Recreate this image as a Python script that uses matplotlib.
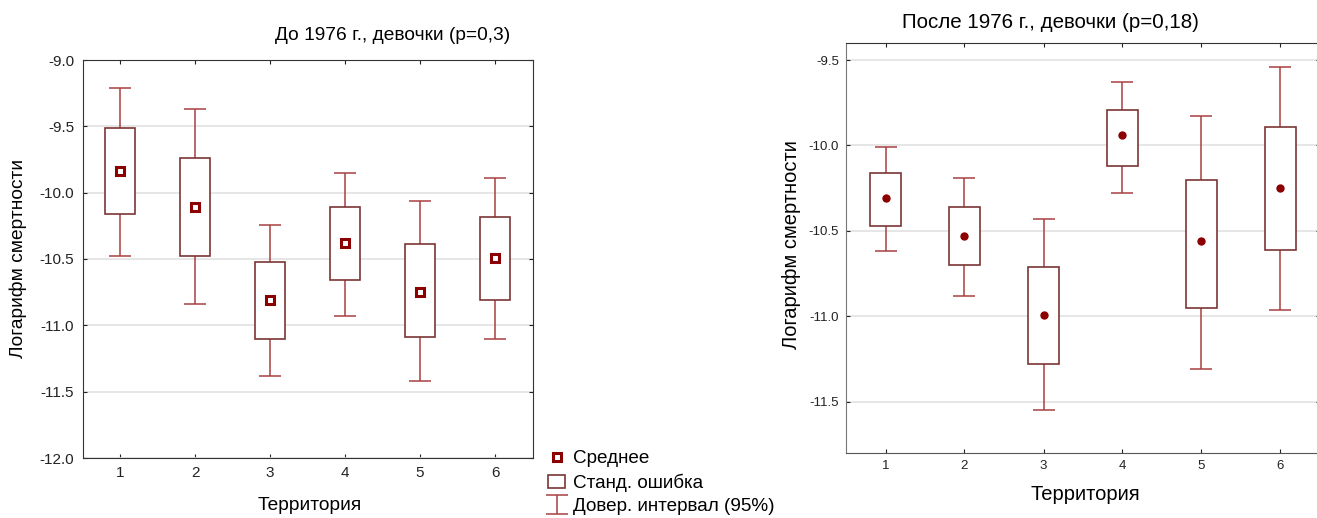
import matplotlib.pyplot as plt
import numpy as np
from matplotlib.patches import Rectangle

plt.rcParams['font.family'] = ['Liberation Sans', 'DejaVu Sans']
plt.rcParams['axes.unicode_minus'] = False

# territories
territory = [1, 2, 3, 4, 5, 6]

# before 1976, girls: mean, +-SE box, 95% CI whiskers
before_mean = [-9.84, -10.11, -10.81, -10.38, -10.75, -10.49]
before_se_top = [-9.51, -9.74, -10.52, -10.11, -10.39, -10.18]
before_se_bot = [-10.16, -10.48, -11.10, -10.66, -11.09, -10.81]
before_ci_top = [-9.21, -9.37, -10.24, -9.85, -10.06, -9.89]
before_ci_bot = [-10.48, -10.84, -11.38, -10.93, -11.42, -11.10]

# after 1976, girls
after_mean = [-10.31, -10.53, -10.99, -9.94, -10.56, -10.25]
after_se_top = [-10.16, -10.36, -10.71, -9.79, -10.20, -9.89]
after_se_bot = [-10.47, -10.70, -11.28, -10.12, -10.95, -10.61]
after_ci_top = [-10.01, -10.19, -10.43, -9.63, -9.83, -9.54]
after_ci_bot = [-10.62, -10.88, -11.55, -10.28, -11.31, -10.96]

box_col = "#7b3535"
ci_col = "#a84040"
mean_col = "#8b0000"
W, H = 1317, 518

fig = plt.figure(figsize=(13.17, 5.18), dpi=100)


def draw_panel(ax, mean, se_top, se_bot, ci_top, ci_bot, marker_style):
    x = np.array(territory)
    mean = np.array(mean)
    eb = ax.errorbar(x, mean, yerr=[mean - np.array(ci_bot), np.array(ci_top) - mean],
                     fmt="none", ecolor=ci_col, elinewidth=1.1, capsize=8, capthick=1.1, zorder=2)
    for xi, t, b in zip(x, se_top, se_bot):
        ax.add_patch(Rectangle((xi - 0.2, b), 0.4, t - b, facecolor="white",
                               edgecolor=box_col, linewidth=1.2, zorder=3))
    if marker_style == "square":
        ax.plot(x, mean, "s", ms=6, mfc="white", mec=mean_col, mew=2.2, ls="", zorder=4)
    else:
        ax.plot(x, mean, "o", ms=5, color=mean_col, ls="", zorder=4)
    ax.set_xlim(0.5, 6.5)
    ax.set_xticks(territory)
    ax.grid(axis="y", color="#e2e2e2", linewidth=1.2)
    ax.set_axisbelow(True)
    ax.tick_params(direction="in", length=3, top=True, right=True, colors="#222222")
    return eb


# left panel
ax1 = fig.add_axes([82.5 / W, 1 - 458 / H, 450 / W, 398 / H])
eb = draw_panel(ax1, before_mean, before_se_top, before_se_bot, before_ci_top, before_ci_bot, "square")
ax1.set_ylim(-12.0, -9.0)
ax1.set_yticks(np.arange(-12.0, -8.99, 0.5))
ax1.set_yticklabels([f"{v:.1f}" for v in np.arange(-12.0, -8.99, 0.5)])
ax1.tick_params(labelsize=11, pad=6)
for s in ax1.spines.values():
    s.set_color("#333333")
fig.text(393 / W, 1 - 35 / H, "До 1976 г., девочки (p=0,3)", ha="center", va="center", fontsize=13.8)
fig.text(310 / W, 1 - 505 / H, "Территория", ha="center", va="center", fontsize=13.8)
fig.text(18 / W, 1 - 258 / H, "Логарифм смертности", ha="center", va="center", rotation=90, fontsize=13.8)

# legend
handles = [plt.Line2D([], [], marker="s", ls="", ms=6, mfc="white", mec=mean_col, mew=2.2),
           Rectangle((0, 0), 1, 1, facecolor="white", edgecolor=box_col, linewidth=1.2),
           eb]
fig.legend(handles, ["Среднее", "Станд. ошибка", "Довер. интервал (95%)"],
           loc="upper left", bbox_to_anchor=(535 / W, 1 - 437 / H), frameon=False,
           fontsize=13.6, handlelength=0.9, handletextpad=0.4, labelspacing=0.32,
           borderpad=0.2)

# right panel
ax2 = fig.add_axes([846 / W, 1 - 453 / H, 474 / W, 410 / H])
draw_panel(ax2, after_mean, after_se_top, after_se_bot, after_ci_top, after_ci_bot, "dot")
ax2.set_ylim(-11.8, -9.4)
ax2.set_yticks([-11.5, -11.0, -10.5, -10.0, -9.5])
ax2.set_yticklabels(["-11.5", "-11.0", "-10.5", "-10.0", "-9.5"])
ax2.tick_params(labelsize=9.5, pad=5)
ax2.spines["left"].set_color("#777777")
ax2.spines["top"].set_color("#333333")
ax2.spines["bottom"].set_color("#555555")
fig.text(1050 / W, 1 - 22 / H, "После 1976 г., девочки (p=0,18)", ha="center", va="center", fontsize=14.8)
fig.text(1085 / W, 1 - 495 / H, "Территория", ha="center", va="center", fontsize=14.5)
fig.text(792 / W, 1 - 245 / H, "Логарифм смертности", ha="center", va="center", rotation=90, fontsize=14.5)

fig.savefig("out.png", dpi=100)
